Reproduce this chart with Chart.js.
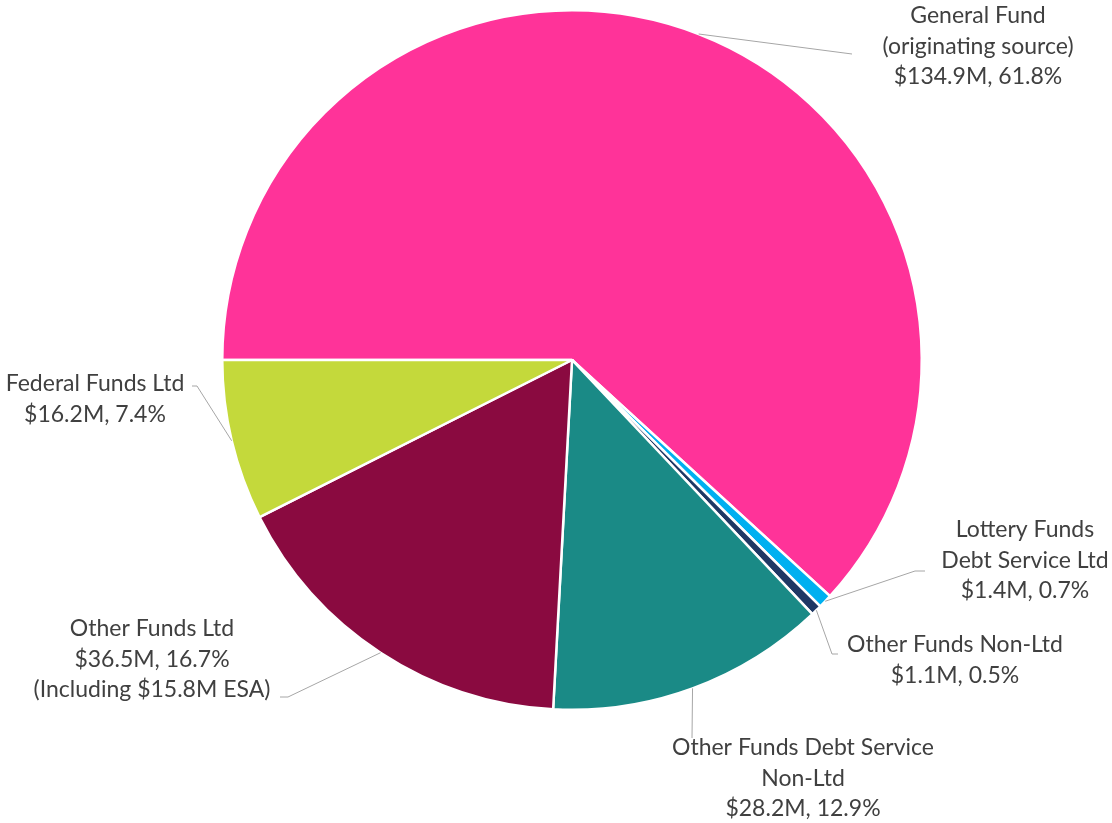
<!DOCTYPE html>
<html>
<head>
<meta charset="utf-8">
<script src="https://cdn.jsdelivr.net/npm/chart.js@4.4.1/dist/chart.umd.min.js"></script>
<style>
  html, body { margin: 0; padding: 0; background: #ffffff; }
  #wrap { width: 1112px; height: 823px; }
</style>
</head>
<body>
<div id="wrap"><canvas id="c" width="1112" height="823"></canvas></div>
<script>
// ---- data ----
const categories = [
  "General Fund (originating source)",
  "Lottery Funds Debt Service Ltd",
  "Other Funds Non-Ltd",
  "Other Funds Debt Service Non-Ltd",
  "Other Funds Ltd",
  "Federal Funds Ltd"
];
const amountsM = [134.9, 1.4, 1.1, 28.2, 36.5, 16.2];
const percents = [61.8, 0.7, 0.5, 12.9, 16.7, 7.4];
const labelLines = [
  ["General Fund", "(originating source)", "$134.9M, 61.8%"],
  ["Lottery Funds", "Debt Service Ltd", "$1.4M, 0.7%"],
  ["Other Funds Non-Ltd", "$1.1M, 0.5%"],
  ["Other Funds Debt Service", "Non-Ltd", "$28.2M, 12.9%"],
  ["Other Funds Ltd", "$36.5M, 16.7%", "(Including $15.8M ESA)"],
  ["Federal Funds Ltd", "$16.2M, 7.4%"]
];
const colors = ["#FF3399", "#00B0F0", "#1F3864", "#1A8A86", "#8A0A40", "#C4D93B"];

// ---- label layout (text centre x, first line middle y, leader path after the slice anchor) ----
const labelLayout = [
  { x: 978, y: 16, path: [[852, 54]] },
  { x: 1025, y: 530, path: [[915, 571], [925, 571]] },
  { x: 955, y: 645, path: [[832, 654], [838, 654]] },
  { x: 803, y: 748, path: [[692, 738]] },
  { x: 152, y: 629, path: [[288, 697], [280, 697]] },
  { x: 95, y: 384, path: [[197, 386], [192, 386]] }
];
const lineHeight = 30.5;
const fontSpec = "23px Lato, 'Open Sans', sans-serif";

const labelPlugin = {
  id: 'sliceLabels',
  afterDatasetsDraw(chart) {
    const ctx = chart.ctx;
    const meta = chart.getDatasetMeta(0);
    ctx.save();
    meta.data.forEach((arc, i) => {
      const p = arc.getProps(['x', 'y', 'startAngle', 'endAngle', 'outerRadius'], true);
      const mid = (p.startAngle + p.endAngle) / 2;
      const ax = p.x + Math.cos(mid) * p.outerRadius;
      const ay = p.y + Math.sin(mid) * p.outerRadius;
      const lay = labelLayout[i];
      ctx.strokeStyle = '#A6A6A6';
      ctx.lineWidth = 1;
      ctx.beginPath();
      ctx.moveTo(ax, ay);
      lay.path.forEach(pt => ctx.lineTo(pt[0], pt[1]));
      ctx.stroke();
      ctx.fillStyle = '#404040';
      ctx.font = fontSpec;
      ctx.textAlign = 'center';
      ctx.textBaseline = 'middle';
      labelLines[i].forEach((t, k) => ctx.fillText(t, lay.x, lay.y + k * lineHeight));
    });
    ctx.restore();
  }
};

new Chart(document.getElementById('c'), {
  type: 'pie',
  data: {
    labels: categories,
    datasets: [{
      data: amountsM,
      backgroundColor: colors,
      borderColor: '#ffffff',
      borderWidth: 2.5
    }]
  },
  options: {
    responsive: false,
    animation: false,
    rotation: -90,
    layout: { padding: { left: 221, right: 189, top: 9, bottom: 112 } },
    plugins: {
      legend: { display: false },
      tooltip: { enabled: false }
    }
  },
  plugins: [labelPlugin]
});
</script>
</body>
</html>
